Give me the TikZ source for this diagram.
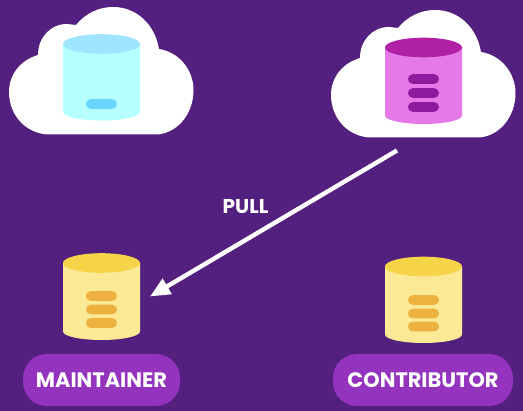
\documentclass[tikz,border=0pt]{standalone}
\usepackage{fontspec}
\setmainfont{Poppins}
\usetikzlibrary{arrows.meta}
\definecolor{bgc}{HTML}{54207F}
\definecolor{badgec}{HTML}{9333BE}
\definecolor{cyanb}{HTML}{B5FFFF}
\definecolor{cyant}{HTML}{A0E5FF}
\definecolor{cyanp}{HTML}{66D5FF}
\definecolor{magb}{HTML}{E579E8}
\definecolor{magt}{HTML}{B021A5}
\definecolor{magp}{HTML}{8F1A9E}
\definecolor{yelb}{HTML}{FCE996}
\definecolor{yelt}{HTML}{F5D547}
\definecolor{yelp}{HTML}{EDB13F}
% #1 centre x, #2 top-ellipse centre y, #3 bottom-ellipse centre y, #4 body, #5 top
\newcommand{\dbbody}[5]{%
  \fill[#4] (#1-38.5,#2) -- (#1-38.5,#3)
    .. controls (#1-38.5,#3+4.7) and (#1-21.3,#3+8.5) .. (#1,#3+8.5)
    .. controls (#1+21.3,#3+8.5) and (#1+38.5,#3+4.7) .. (#1+38.5,#3)
    -- (#1+38.5,#2) -- cycle;
  \fill[#5] (#1,#2) ellipse[x radius=38.5,y radius=9.8];
}
\newcommand{\dbbar}[3]{%
  \fill[#3,rounded corners=4.7pt] (#1-15.5,#2-4.8) rectangle (#1+15.5,#2+4.8);
}
\newcommand{\cloudshape}[2]{%
  \fill[white,shift={(#1,#2)}] (50,134.5) .. controls (26,134.5) and (9,115) .. (9,92)
    .. controls (9,74) and (21,60) .. (38,55)
    .. controls (38,38) and (50,24) .. (67,24)
    .. controls (70,24) and (73,25) .. (76,25)
    .. controls (85,14) and (98,7) .. (113,7)
    .. controls (137,7) and (155,25) .. (159,49)
    .. controls (179,52) and (193.5,70) .. (193.5,90)
    .. controls (193.5,115) and (176,134.5) .. (155,134.5) -- cycle;
}
\tikzset{
  badge/.style={fill=badgec,rounded corners=24pt,minimum height=52pt,inner sep=0pt,text=white,
    font=\fontsize{20.9}{21}\selectfont\bfseries,anchor=center},
  flowlabel/.style={text=white,inner sep=0pt,font=\fontsize{20}{20}\selectfont\bfseries},
  pullarrow/.style={white,line width=4.4pt,-{Triangle[length=20pt,width=17pt]}}
}
\begin{document}
\begin{tikzpicture}[x=1pt,y=-1pt]
\fill[bgc] (0,0) rectangle (523,411);
\useasboundingbox (0,0) rectangle (523,411);
\cloudshape{0}{0}
\cloudshape{322}{3}
% cloud databases
\dbbody{101.5}{44}{112}{cyanb}{cyant}
\dbbar{101.5}{104}{cyanp}
\dbbody{423.5}{47.5}{115.5}{magb}{magt}
\dbbar{423.5}{79}{magp}
\dbbar{423.5}{93}{magp}
\dbbar{423.5}{107}{magp}
% local databases
\dbbody{101.5}{263}{331.5}{yelb}{yelt}
\dbbar{101.5}{296}{yelp}
\dbbar{101.5}{309.5}{yelp}
\dbbar{101.5}{323}{yelp}
\dbbody{423.5}{266.5}{334.5}{yelb}{yelt}
\dbbar{423.5}{300}{yelp}
\dbbar{423.5}{313.5}{yelp}
\dbbar{423.5}{326.5}{yelp}
% badges
\node[badge,minimum width=157pt] (maintainer) at (101.5,380) {MAINTAINER};
\node[badge,minimum width=180pt] (contributor) at (423,380) {CONTRIBUTOR};
% pull
\coordinate (origin) at (397,150.5);
\coordinate (local) at (150,296.5);
\draw[pullarrow] (origin) -- (local);
\node[flowlabel] (pull) at (245.5,206.5) {PULL};
\end{tikzpicture}
\end{document}
